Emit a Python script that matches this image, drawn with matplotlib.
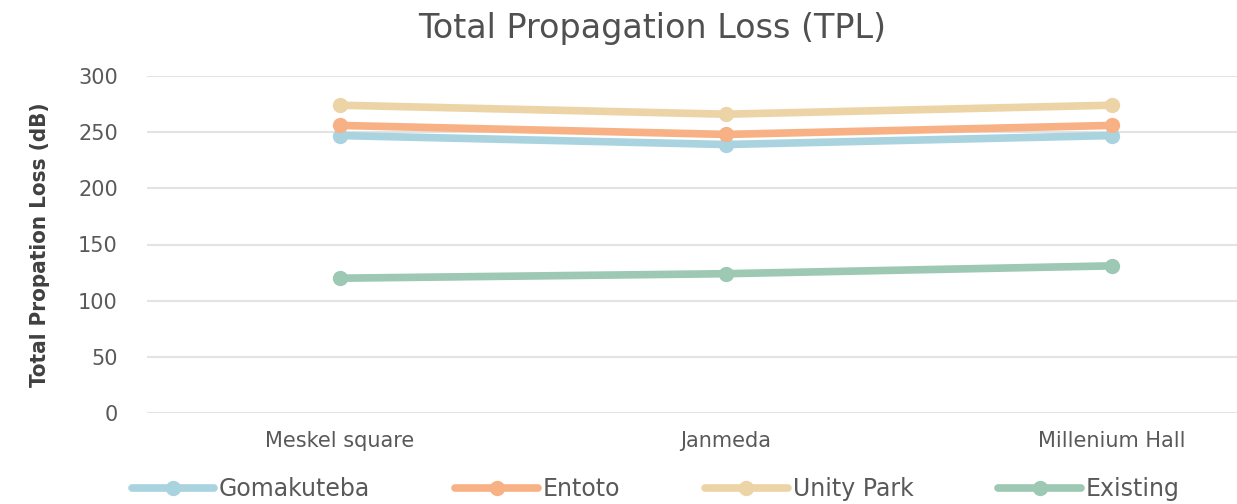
import matplotlib
matplotlib.use("Agg")
import matplotlib.pyplot as plt

locations = ["Meskel square", "Janmeda", "Millenium Hall"]
gomakuteba = [247, 239, 247]
entoto = [256, 248, 256]
unity_park = [274, 266, 274]
existing = [120, 124, 131]
y_ticks = [0, 50, 100, 150, 200, 250, 300]

series = [
    ("Gomakuteba", gomakuteba, "#A9D3DF"),
    ("Entoto", entoto, "#F8B184"),
    ("Unity Park", unity_park, "#EDD4A6"),
    ("Existing", existing, "#9DC8B3"),
]

fig = plt.figure(figsize=(12.37, 5.04), dpi=100)
ax = fig.add_axes([147 / 1237, 1 - 413 / 504, 1 - 147 / 1237, (413 - 76) / 504])

x = list(range(len(locations)))
for name, vals, color in series:
    ax.plot(x, vals, color=color, linewidth=5.5, marker="o", markersize=10,
            label=name, solid_capstyle="round", zorder=3)

ax.set_xlim(-0.5, 2.324)
ax.set_ylim(0, 300)
ax.set_yticks(y_ticks)
ax.set_xticks(x)
ax.set_xticklabels(locations)
ax.grid(axis="y", color="#E3E3E3", linewidth=1.5)
ax.set_axisbelow(True)
for s in ax.spines.values():
    s.set_visible(False)
ax.tick_params(length=0, labelcolor="#595959")
ax.tick_params(axis="y", labelsize=15, pad=21)
ax.tick_params(axis="x", labelsize=15, pad=13)
for lab in ax.get_xticklabels() + ax.get_yticklabels():
    lab.set_family("DejaVu Sans")

ax.set_ylabel("Total Propation Loss (dB)", fontsize=16, fontweight="bold",
              color="#404040", family="DejaVu Sans", fontstretch="condensed",
              labelpad=20)

fig.text(0.527, 0.944, "Total Propagation Loss (TPL)", ha="center", va="center",
         fontsize=24, color="#505050", family="DejaVu Sans")

fig.legend(loc="center", bbox_to_anchor=(0.530, 0.03), ncol=4, frameon=False,
           fontsize=17, labelcolor="#595959", handlelength=3.5, columnspacing=3.6,
           handletextpad=0.2, borderaxespad=0)

fig.savefig("out.png", dpi=100)
